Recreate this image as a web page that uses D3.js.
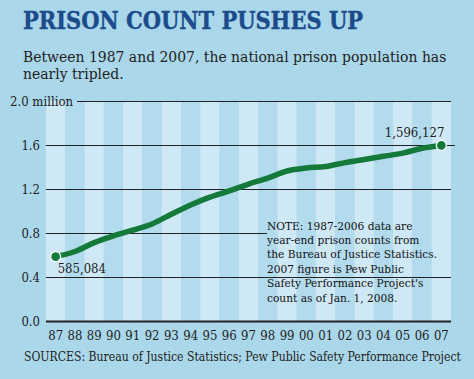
<!DOCTYPE html>
<html><head><meta charset="utf-8">
<script src="https://cdn.jsdelivr.net/npm/d3@7"></script>
<style>body{margin:0;background:#aad7e9;} svg{display:block;}</style>
</head><body>
<svg id="c" width="474" height="379"></svg>
<script>
const years = ["87","88","89","90","91","92","93","94","95","96","97","98","99","00","01","02","03","04","05","06","07"];
const population = [585084,631990,712364,773919,825559,882500,970444,1054702,1125874,1182169,1244554,1299096,1363701,1391261,1404032,1440144,1468601,1497100,1525924,1570861,1596127];
const yTicks = [0, 400000, 800000, 1200000, 1600000, 2000000];
const yTickLabels = ["0.0","0.4","0.8","1.2","1.6","2.0 million"];
const titleText = "PRISON COUNT PUSHES UP";
const subtitleLines = ["Between 1987 and 2007, the national prison population has","nearly tripled."];
const noteLines = ["NOTE: 1987-2006 data are","year-end prison counts from","the Bureau of Justice Statistics.","2007 figure is Pew Public","Safety Performance Project's","count as of Jan. 1, 2008."];
const sourceText = "SOURCES: Bureau of Justice Statistics; Pew Public Safety Performance Project";

const svg = d3.select("#c");
const serif = "'DejaVu Serif Condensed', 'DejaVu Serif', serif";
svg.append("rect").attr("width",474).attr("height",379).attr("fill","#aad7e9");

const pLeft = 46, pRight = 451, pTop = 101, pBottom = 321;
const x = d3.scaleBand().domain(years).range([pLeft, pRight]).padding(0);
const y = d3.scaleLinear().domain([0, 2000000]).range([pBottom, pTop]);

// stripes
svg.append("g").selectAll("rect").data(years).join("rect")
  .attr("x", d => x(d)).attr("y", pTop).attr("width", x.bandwidth()).attr("height", pBottom - pTop)
  .attr("fill", (d,i) => i % 2 === 0 ? "#cfe8f6" : "#b3dbee");

// title
svg.append("text").attr("x", 23).attr("y", 29).text(titleText)
  .attr("font-family", "'DejaVu Serif', serif").attr("font-weight", "bold").attr("font-size", 24)
  .attr("fill", "#1c4b8c").attr("stroke", "#1c4b8c").attr("stroke-width", 0.4)
  .attr("textLength", 340).attr("lengthAdjust", "spacingAndGlyphs");

svg.append("g").selectAll("text").data(subtitleLines).join("text")
  .attr("x", 23).attr("y", (d,i) => 61.5 + i*17).text(d => d)
  .attr("font-family", serif).attr("font-stretch", "condensed").attr("font-size", 15.5).attr("fill", "#222");

const noteX = 267;
// gridlines
const yAxis = d3.axisLeft(y).tickValues(yTicks).tickFormat((d,i) => yTickLabels[i]).tickSize(0).tickPadding(6);
const gy = svg.append("g").attr("transform", `translate(${pLeft},0)`).call(yAxis);
gy.select(".domain").remove();
gy.selectAll(".tick text").attr("font-family", serif).attr("font-stretch", "condensed").attr("font-size", 13).attr("fill", "#222");
gy.selectAll(".tick").append("line")
  .attr("x1", d => d === 2000000 ? 31 : 0)
  .attr("x2", d => d === 800000 ? noteX - pLeft : (d === 1600000 ? pRight - pLeft + 4 : pRight - pLeft))
  .attr("stroke", "#222").attr("stroke-width", d => d === 0 ? 2 : 1.2);
gy.selectAll(".tick").filter(d => d === 2000000).select("text").attr("x", 27);

// x axis labels
const xAxis = d3.axisBottom(x).tickSize(0).tickPadding(10);
const gx = svg.append("g").attr("transform", `translate(0,${pBottom})`).call(xAxis);
gx.select(".domain").remove();
gx.selectAll(".tick text").attr("font-family", serif).attr("font-stretch", "condensed").attr("font-size", 13).attr("fill", "#222");

// line
const cx = d => x(d) + x.bandwidth()/2;
const line = d3.line().x((d,i) => cx(years[i])).y(d => y(d)).curve(d3.curveMonotoneX);
svg.append("path").datum(population).attr("d", line)
  .attr("fill", "none").attr("stroke", "#137a3a").attr("stroke-width", 5.5).attr("stroke-linecap", "round");

const ends = [0, population.length - 1];
svg.append("g").selectAll("circle").data(ends).join("circle")
  .attr("cx", i => cx(years[i])).attr("cy", i => y(population[i])).attr("r", 5)
  .attr("fill", "#137a3a").attr("stroke", "#fff").attr("stroke-width", 1.3);

svg.append("text").attr("x", cx(years[0]) + 2).attr("y", y(population[0]) + 16)
  .text(d3.format(",")(population[0])).attr("font-family", serif).attr("font-stretch", "condensed").attr("font-size", 13).attr("fill", "#222");
svg.append("text").attr("x", cx(years[20]) + 3).attr("y", y(population[20]) - 8).attr("text-anchor", "end")
  .text(d3.format(",")(population[20])).attr("font-family", serif).attr("font-stretch", "condensed").attr("font-size", 13).attr("fill", "#222");

// note
svg.append("g").selectAll("text").data(noteLines).join("text")
  .attr("x", noteX).attr("y", (d,i) => 229.5 + i*14.4).text(d => d)
  .attr("font-family", serif).attr("font-stretch", "condensed").attr("font-size", 11.8).attr("fill", "#111");

svg.append("text").attr("x", 24).attr("y", 361).text(sourceText)
  .attr("font-family", serif).attr("font-stretch", "condensed").attr("font-size", 12.1).attr("fill", "#222");
</script>
</body></html>
